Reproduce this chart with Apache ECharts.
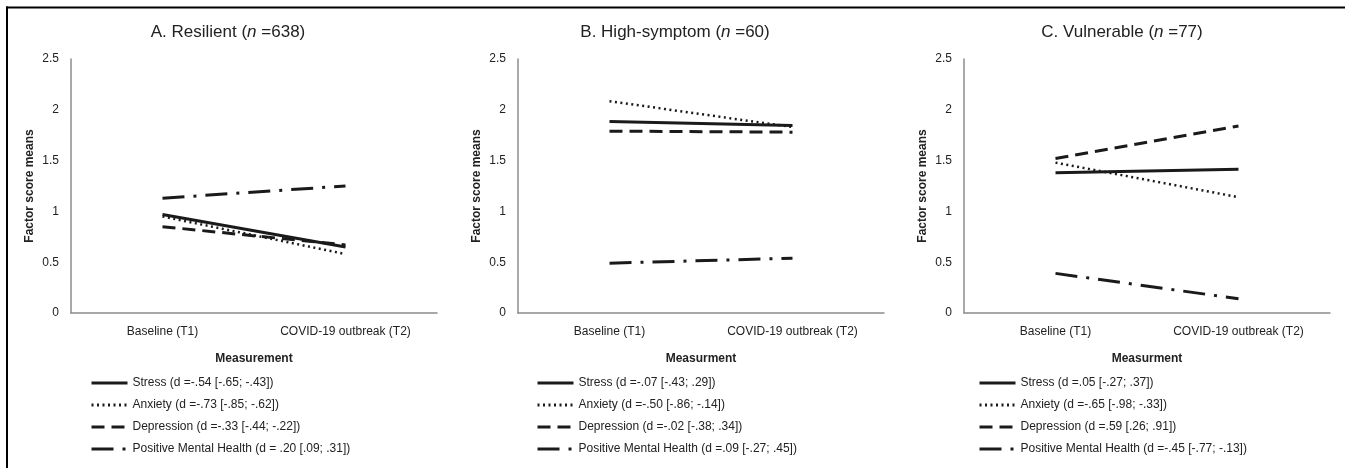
<!DOCTYPE html>
<html><head><meta charset="utf-8">
<script src="https://cdn.jsdelivr.net/npm/echarts@6/dist/echarts.min.js"></script>
<style>html,body{margin:0;padding:0;background:#fff}#c{width:1345px;height:468px}</style>
</head><body><div id="c"></div>
<script>
const categories = ['Baseline (T1)', 'COVID-19 outbreak (T2)'];
const yTicks = [0, 0.5, 1, 1.5, 2, 2.5];

const panelTitles = ['A. Resilient ({i|n} =638)', 'B. High-symptom ({i|n} =60)', 'C. Vulnerable ({i|n} =77)'];
const xAxisNames = ['Measurement', 'Measurment', 'Measurment'];

// Panel A
const stressA = [0.97, 0.65];
const anxietyA = [0.95, 0.58];
const depressionA = [0.85, 0.67];
const pmhA = [1.13, 1.25];
const namesA = ['Stress (d =-.54 [-.65; -.43])', 'Anxiety (d =-.73 [-.85; -.62])', 'Depression (d =-.33 [-.44; -.22])', 'Positive Mental Health (d = .20 [.09; .31])'];

// Panel B
const stressB = [1.885, 1.845];
const anxietyB = [2.085, 1.83];
const depressionB = [1.79, 1.78];
const pmhB = [0.49, 0.54];
const namesB = ['Stress (d =-.07 [-.43; .29])', 'Anxiety (d =-.50 [-.86; -.14])', 'Depression (d =-.02 [-.38; .34])', 'Positive Mental Health (d =.09 [-.27; .45])'];

// Panel C
const stressC = [1.38, 1.415];
const anxietyC = [1.48, 1.14];
const depressionC = [1.52, 1.84];
const pmhC = [0.39, 0.14];
const namesC = ['Stress (d =.05 [-.27; .37])', 'Anxiety (d =-.65 [-.98; -.33])', 'Depression (d =.59 [.26; .91])', 'Positive Mental Health (d =-.45 [-.77; -.13])'];

const panels = [
  {data: [stressA, anxietyA, depressionA, pmhA], names: namesA},
  {data: [stressB, anxietyB, depressionB, pmhB], names: namesB},
  {data: [stressC, anxietyC, depressionC, pmhC], names: namesC}
];

const FONT = 'Liberation Sans, Arial, sans-serif';
const INK = '#1a1a1a';
const gridLefts = [71, 518, 964];
const gridWidth = 366;
const titleCenters = [228, 675, 1122];
const legendLefts = [90, 536, 978];

const lineStyles = [
  {type: 'solid', width: 3},
  {type: [2, 3.5], width: 2.5},
  {type: [13, 7], width: 3},
  {type: [22, 9, 3, 9], width: 3}
];

const grid = [], xAxis = [], yAxis = [], series = [], legend = [], graphic = [];
panels.forEach((p, i) => {
  grid.push({left: gridLefts[i], width: gridWidth, top: 59, height: 254});
  xAxis.push({
    type: 'category', gridIndex: i, data: categories, boundaryGap: true,
    axisTick: {show: false},
    axisLine: {lineStyle: {color: '#8c8c8c', width: 1.5}},
    axisLabel: {color: '#222', fontFamily: FONT, fontSize: 12, margin: 13},
    name: xAxisNames[i], nameLocation: 'middle', nameGap: 40,
    nameTextStyle: {fontFamily: FONT, fontSize: 12, fontWeight: 'bold', color: '#222'}
  });
  yAxis.push({
    type: 'value', gridIndex: i, min: 0, max: 2.5, interval: 0.5,
    splitLine: {show: false}, axisTick: {show: false},
    axisLine: {show: true, lineStyle: {color: '#8c8c8c', width: 1.5}},
    axisLabel: {color: '#222', fontFamily: FONT, fontSize: 12, margin: 12,
      formatter: v => yTicks.indexOf(v) >= 0 ? String(v) : ''},
    name: 'Factor score means', nameLocation: 'middle', nameGap: 35,
    nameTextStyle: {fontFamily: FONT, fontSize: 12, fontWeight: 'bold', color: '#222'}
  });
  p.data.forEach((d, k) => {
    series.push({
      type: 'line', name: p.names[k], xAxisIndex: i, yAxisIndex: i,
      data: d, symbol: 'none', showSymbol: false, silent: true,
      lineStyle: Object.assign({color: INK, cap: 'butt'}, lineStyles[k]),
      itemStyle: {color: INK},
      z: 4 - k
    });
  });
  legend.push({
    data: p.names,
    orient: 'vertical', left: legendLefts[i], top: 377, padding: 0,
    itemWidth: 36, itemHeight: 14, itemGap: 10,
    itemStyle: {opacity: 0},
    lineStyle: {width: 3},
    textStyle: {fontFamily: FONT, fontSize: 12, color: '#222'},
    selectedMode: false
  });
  graphic.push({
    type: 'text', x: titleCenters[i], y: 32,
    style: {
      text: panelTitles[i], align: 'center', verticalAlign: 'middle',
      fontFamily: FONT, fontSize: 17, fill: '#222',
      rich: {i: {fontStyle: 'italic', fontFamily: FONT, fontSize: 17, fill: '#222'}}
    }
  });
});
graphic.push({type: 'line', shape: {x1: 6, y1: 7.5, x2: 1345, y2: 7.5}, style: {stroke: '#000', lineWidth: 2}});
graphic.push({type: 'line', shape: {x1: 7, y1: 6.5, x2: 7, y2: 468}, style: {stroke: '#000', lineWidth: 2}});

const chart = echarts.init(document.getElementById('c'), null, {renderer: 'canvas'});
chart.setOption({animation: false, backgroundColor: '#fff', grid, xAxis, yAxis, series, legend, graphic});
</script></body></html>
